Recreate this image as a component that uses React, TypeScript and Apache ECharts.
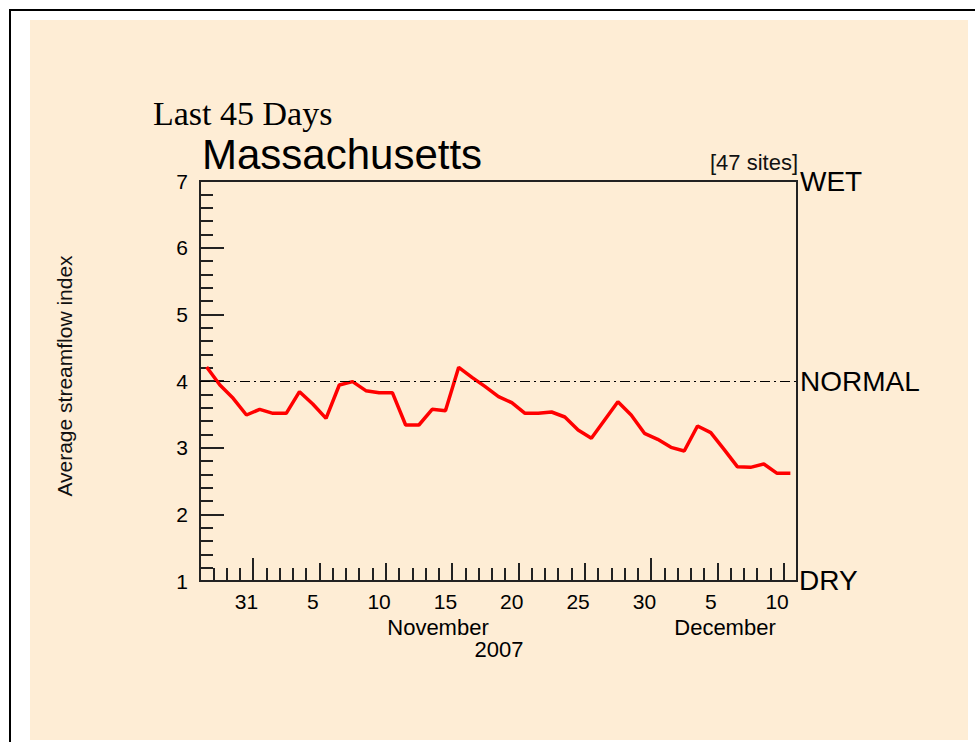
import React, { useEffect, useRef } from "react";
import * as echarts from "echarts";

// Daily average streamflow index, Oct 28 – Dec 11, 2007 (45 days)
const dayCount = 45;
const values = [
  4.21, 3.94, 3.74, 3.49, 3.575, 3.515, 3.515, 3.84, 3.655, 3.44,
  3.94, 3.99, 3.855, 3.825, 3.825, 3.34, 3.34, 3.575, 3.555, 4.205,
  4.055, 3.915, 3.765, 3.675, 3.515, 3.515, 3.535, 3.46, 3.265, 3.14,
  3.415, 3.69, 3.49, 3.215, 3.125, 3.005, 2.95, 3.325, 3.225, 2.975,
  2.715, 2.705, 2.755, 2.615, 2.615,
];
// tick labels (day of month), placed at the middle of that day
const tickLabels = ["31", "5", "10", "15", "20", "25", "30", "5", "10"];
const tickDays = [3.5, 8.5, 13.5, 18.5, 23.5, 28.5, 33.5, 38.5, 43.5];
// day boundaries with 5-day ticks and month-end ticks
const fiveDayTicks = [9, 14, 19, 24, 29, 39, 44];
const monthTicks = [4, 34];
const yTicks = [1, 2, 3, 4, 5, 6, 7];
const normalLevel = 4;

const AXIS = "#222";
const FONT = "'Liberation Sans', Arial, Helvetica, sans-serif";

export default function App() {
  const ref = useRef<HTMLDivElement>(null);

  useEffect(() => {
    if (!ref.current) return;
    const chart = echarts.init(ref.current, null, { renderer: "svg" });
    const data = values.map((v, i) => [i + 0.5, v]);

    const baseX = {
      type: "value",
      min: 0,
      max: dayCount,
      position: "bottom",
      splitLine: { show: false },
      axisLine: { show: false },
      axisLabel: { show: false },
    };

    const option: any = {
      animation: false,
      backgroundColor: "#ffffff",
      grid: {
        left: 200,
        top: 181,
        width: 597,
        height: 400,
        show: true,
        borderColor: AXIS,
        borderWidth: 2,
        backgroundColor: "transparent",
      },
      xAxis: [
        {
          ...baseX,
          interval: 1,
          axisLine: { show: true, lineStyle: { color: AXIS, width: 2 } },
          axisTick: { show: true, inside: true, length: 13, lineStyle: { color: AXIS, width: 2 } },
        },
        {
          ...baseX,
          axisTick: {
            show: true,
            inside: true,
            length: 18,
            customValues: fiveDayTicks,
            lineStyle: { color: AXIS, width: 2 },
          },
        },
        {
          ...baseX,
          axisTick: {
            show: true,
            inside: true,
            length: 23,
            customValues: monthTicks,
            lineStyle: { color: AXIS, width: 2 },
          },
        },
        {
          ...baseX,
          axisTick: { show: false },
          axisLabel: {
            show: true,
            customValues: tickDays,
            margin: 10,
            fontSize: 21,
            lineHeight: 21,
            fontFamily: FONT,
            color: "#000",
            formatter: (val: number) => {
              const i = tickDays.findIndex((d) => Math.abs(d - val) < 1e-6);
              return i >= 0 ? tickLabels[i] : "";
            },
          },
        },
      ],
      yAxis: {
        type: "value",
        min: 1,
        max: 7,
        interval: 1,
        splitLine: { show: false },
        axisLine: { show: true, lineStyle: { color: AXIS, width: 2 } },
        axisTick: { show: true, inside: true, length: 24, lineStyle: { color: AXIS, width: 2 } },
        minorTick: { show: true, splitNumber: 5, length: 13, lineStyle: { color: AXIS, width: 2 } },
        axisLabel: {
          margin: 12,
          fontSize: 21,
          fontFamily: FONT,
          color: "#000",
          customValues: yTicks,
        },
      },
      series: [
        {
          type: "line",
          xAxisIndex: 0,
          data,
          showSymbol: false,
          symbol: "none",
          lineStyle: { color: "#ff0000", width: 3.5 },
          markLine: {
            silent: true,
            symbol: ["none", "none"],
            label: { show: false },
            lineStyle: { color: "#000", width: 1, type: [10, 4, 2, 4] },
            data: [{ yAxis: normalLevel }],
          },
        },
      ],
      graphic: [
        {
          type: "rect",
          z: -2,
          shape: { x: 30, y: 20, width: 938, height: 720 },
          style: { fill: "#feedd5" },
        },
        {
          type: "rect",
          z: -1,
          shape: { x: 10, y: 10, width: 1000, height: 1000 },
          style: { fill: "none", stroke: "#000", lineWidth: 2 },
        },
        {
          type: "text",
          x: 153,
          y: 113,
          style: {
            text: "Last 45 Days",
            font: "34px 'Liberation Serif', 'Times New Roman', serif",
            fill: "#000",
            textAlign: "left",
            textVerticalAlign: "middle",
          },
        },
        {
          type: "text",
          x: 202,
          y: 154,
          style: {
            text: "Massachusetts",
            font: `42px ${FONT}`,
            fill: "#000",
            textAlign: "left",
            textVerticalAlign: "middle",
          },
        },
        {
          type: "text",
          x: 798,
          y: 162,
          style: {
            text: "[47 sites]",
            font: `22px ${FONT}`,
            fill: "#111",
            textAlign: "right",
            textVerticalAlign: "middle",
          },
        },
        {
          type: "text",
          x: 800,
          y: 181,
          style: { text: "WET", font: `28px ${FONT}`, fill: "#000", textAlign: "left", textVerticalAlign: "middle" },
        },
        {
          type: "text",
          x: 800,
          y: 381,
          style: { text: "NORMAL", font: `28px ${FONT}`, fill: "#000", textAlign: "left", textVerticalAlign: "middle" },
        },
        {
          type: "text",
          x: 799,
          y: 580,
          style: { text: "DRY", font: `28px ${FONT}`, fill: "#000", textAlign: "left", textVerticalAlign: "middle" },
        },
        {
          type: "text",
          x: 64,
          y: 376,
          rotation: Math.PI / 2,
          style: {
            text: "Average streamflow index",
            font: `21px ${FONT}`,
            fill: "#111",
            textAlign: "center",
            textVerticalAlign: "middle",
          },
        },
        {
          type: "text",
          x: 438,
          y: 627,
          style: { text: "November", font: `22px ${FONT}`, fill: "#000", textAlign: "center", textVerticalAlign: "middle" },
        },
        {
          type: "text",
          x: 725,
          y: 627,
          style: { text: "December", font: `22px ${FONT}`, fill: "#000", textAlign: "center", textVerticalAlign: "middle" },
        },
        {
          type: "text",
          x: 499,
          y: 649,
          style: { text: "2007", font: `22px ${FONT}`, fill: "#000", textAlign: "center", textVerticalAlign: "middle" },
        },
      ],
    };

    chart.setOption(option);
    return () => chart.dispose();
  }, []);

  return (
    <div
      ref={ref}
      style={{ position: "fixed", left: 0, top: 0, width: 975, height: 742 }}
    />
  );
}
